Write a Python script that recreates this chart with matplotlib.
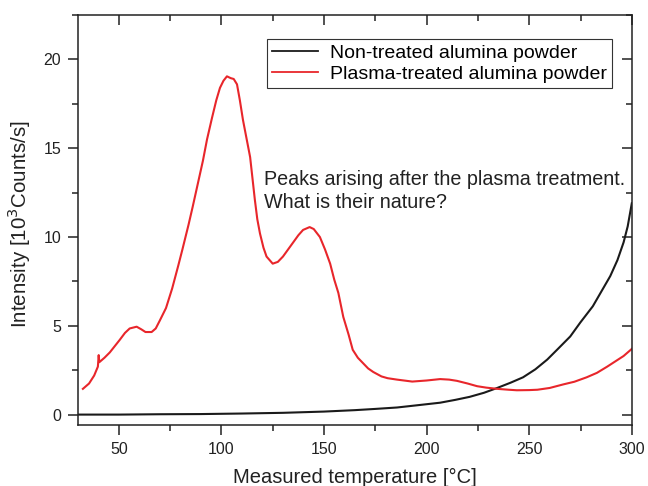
import numpy as np
import matplotlib.pyplot as plt
from matplotlib.ticker import MultipleLocator

plt.rcParams['font.family'] = ['Liberation Sans', 'DejaVu Sans']

# Plasma-treated alumina powder
plasma_t = [32.5, 35.5, 38, 39.8, 40.2, 40.5, 43, 45.6, 48, 50.4, 53, 55.3, 58.7, 61, 63, 66,
            68, 70, 73, 76, 79, 81, 84, 86, 88.5, 91, 93, 95.4, 97.5, 99.3, 101, 102.7,
            104.5, 106, 107.6, 109, 110.5, 112, 114, 116.3, 117.5, 118.8, 120.5, 122, 125,
            127.5, 130, 132.5, 135, 137.5, 139.8, 143, 145, 148, 150.5, 153, 155, 157,
            159.4, 162, 164, 166.5, 169, 171.5, 174, 178, 181, 185.6, 193, 200, 206.6,
            211, 214.8, 220, 224.6, 229, 234.4, 240, 244, 250, 254, 260, 266.6, 272, 278,
            283, 288, 292, 296, 300]
plasma_i = [1.45, 1.75, 2.2, 2.7, 3.35, 2.95, 3.2, 3.5, 3.85, 4.2, 4.6, 4.85, 4.95, 4.8, 4.65, 4.65,
            4.85, 5.3, 6.0, 7.1, 8.4, 9.3, 10.7, 11.7, 13.0, 14.3, 15.5, 16.7, 17.7, 18.4, 18.8, 19.05,
            18.95, 18.9, 18.6, 17.7, 16.6, 15.7, 14.5, 12.1, 11.0, 10.2, 9.4, 8.9, 8.5,
            8.6, 8.9, 9.3, 9.7, 10.1, 10.4, 10.56, 10.45, 10.0, 9.3, 8.5, 7.6, 6.85,
            5.5, 4.5, 3.65, 3.2, 2.9, 2.6, 2.4, 2.15, 2.05, 1.97, 1.86, 1.92, 2.0,
            1.97, 1.9, 1.75, 1.6, 1.52, 1.45, 1.4, 1.37, 1.38, 1.4, 1.5, 1.7, 1.85, 2.1,
            2.35, 2.7, 3.0, 3.3, 3.7]

# Non-treated alumina powder
raw_t = [30, 50, 70, 90, 110, 130, 150, 165, 175, 185.6, 195, 206.6, 214, 221, 228, 234.4,
         241, 247, 253, 258.8, 264, 270, 275, 281, 285, 289.5, 293, 296, 298, 300]
raw_i = [0.0, 0.0, 0.02, 0.03, 0.06, 0.1, 0.17, 0.25, 0.32, 0.4, 0.52, 0.67, 0.83, 1.0, 1.23, 1.5,
         1.8, 2.1, 2.55, 3.1, 3.7, 4.4, 5.2, 6.1, 6.9, 7.8, 8.7, 9.7, 10.6, 11.9]

fig = plt.figure(figsize=(6.48, 4.86), dpi=100)
ax = fig.add_axes([0.120, 0.125, 0.855, 0.844])

ax.plot(raw_t, raw_i, color='#1a1a1a', lw=1.5, label='Non-treated alumina powder')
ax.plot(plasma_t, plasma_i, color='#e8262b', lw=1.5, label='Plasma-treated alumina powder')

ax.set_xlim(30, 300)
ax.set_ylim(-0.6, 22.5)
ax.xaxis.set_major_locator(MultipleLocator(50))
ax.xaxis.set_minor_locator(MultipleLocator(25))
ax.yaxis.set_major_locator(MultipleLocator(5))
ax.yaxis.set_minor_locator(MultipleLocator(2.5))

for s in ax.spines.values():
    s.set_linewidth(1.1)
    s.set_color('#222222')

ax.tick_params(which='major', direction='out', length=7, width=1.1, labelsize=11.5,
               colors='#222222', pad=5)
ax.tick_params(which='minor', direction='out', length=4.5, width=1.1, colors='#222222')
ax.tick_params(which='both', top=True, right=True)

# ticks on top and right point inward (Origin style)
for t in ax.xaxis.get_major_ticks() + ax.xaxis.get_minor_ticks():
    t.tick2line.set_marker(3)
for t in ax.yaxis.get_major_ticks() + ax.yaxis.get_minor_ticks():
    t.tick2line.set_marker(0)

ax.set_xlabel('Measured temperature [°C]', fontsize=14.5, color='#222222', labelpad=8)
ax.set_ylabel('Intensity [10$^3$Counts/s]', fontsize=14.8, color='#222222')
ax.yaxis.set_label_coords(-0.081, 0.49)

ax.text(121, 12.6, 'Peaks arising after the plasma treatment.\nWhat is their nature?',
        fontsize=14.2, color='#222222', va='center', ha='left', linespacing=1.3)

leg = ax.legend(loc='upper right', bbox_to_anchor=(0.964, 0.941), fontsize=14,
                frameon=True, fancybox=False, framealpha=1, edgecolor='#333333',
                borderpad=0.25, handlelength=2.4, handletextpad=0.6, labelspacing=0.2,
                borderaxespad=0)
leg.get_frame().set_linewidth(0.8)
for line in leg.get_lines():
    line.set_linewidth(1.3)

fig.savefig('out.png', dpi=100)
